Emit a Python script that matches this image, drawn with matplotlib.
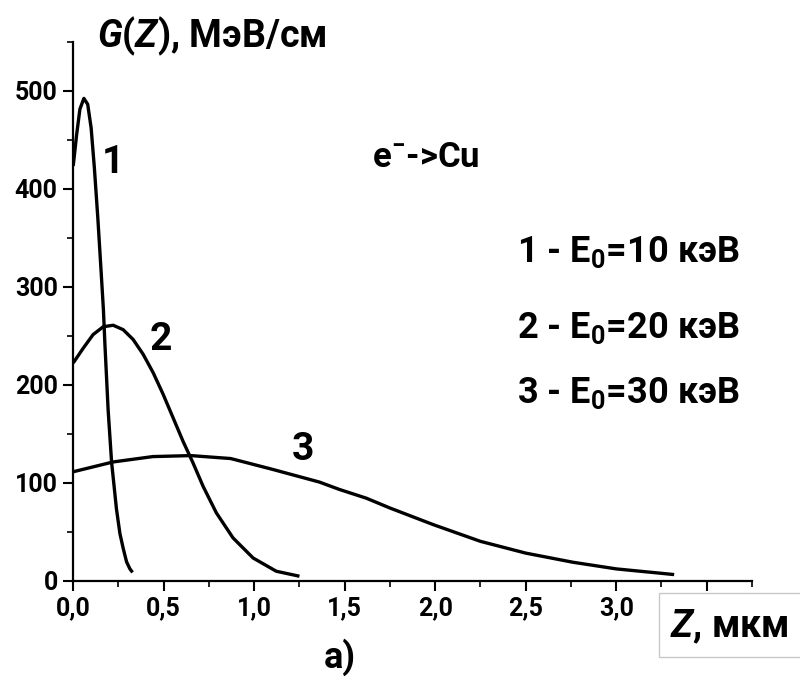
import matplotlib
matplotlib.use("Agg")
import matplotlib.pyplot as plt
from matplotlib.ticker import MultipleLocator, FixedLocator
from matplotlib.patches import Rectangle

plt.rcParams['font.family'] = ['Roboto', 'DejaVu Sans']
plt.rcParams['font.weight'] = 'bold'
plt.rcParams['mathtext.fontset'] = 'custom'
plt.rcParams['mathtext.rm'] = 'Roboto:bold'
plt.rcParams['mathtext.it'] = 'Roboto:italic:bold'
plt.rcParams['mathtext.bf'] = 'Roboto:bold'

# Curve 1: E0 = 10 keV
z1 = [0.0, 0.019, 0.037, 0.059, 0.08, 0.099, 0.117, 0.136, 0.154, 0.167, 0.175, 0.193,
      0.212, 0.239, 0.258, 0.276, 0.295, 0.313, 0.328]
g1 = [423, 455, 481, 492, 486, 462, 421, 370, 316, 276, 242, 174,
      121, 73, 48, 33, 19, 12, 8.3]

# Curve 2: E0 = 20 keV
z2 = [0.0, 0.055, 0.11, 0.166, 0.221, 0.276, 0.331, 0.386, 0.442, 0.497, 0.552, 0.607,
      0.662, 0.718, 0.791, 0.883, 0.994, 1.122, 1.25]
g2 = [222, 237, 251, 259, 260.5, 256, 246, 231, 212, 190, 166, 142,
      120, 96, 69, 43.5, 23, 9.5, 4.4]

# Curve 3: E0 = 30 keV
z3 = [0.0, 0.22, 0.44, 0.65, 0.87, 1.09, 1.25, 1.36, 1.47, 1.62, 1.75, 1.99,
      2.25, 2.50, 2.76, 3.0, 3.32]
g3 = [111, 121, 126.5, 127.5, 124.5, 114, 106, 100.5, 93, 84, 74, 57,
      40, 28, 18.7, 11.9, 6.1]

x_ticks = [0.0, 0.5, 1.0, 1.5, 2.0, 2.5, 3.0, 3.5]
x_tick_labels = ["0,0", "0,5", "1,0", "1,5", "2,0", "2,5", "3,0", ""]
y_ticks = [0, 100, 200, 300, 400, 500]
y_tick_labels = ["0", "100", "200", "300", "400", "500"]

curve_labels = ["1", "2", "3"]
legend_lines = ["1 - E$_0$=10 кэВ", "2 - E$_0$=20 кэВ", "3 - E$_0$=30 кэВ"]

fig = plt.figure(figsize=(8.0, 6.81), dpi=100)
ax = fig.add_axes([0.0915, 0.1475, 0.8485, 0.7915])

for z, g in [(z1, g1), (z2, g2), (z3, g3)]:
    ax.plot(z, g, color='black', lw=2.4, solid_joinstyle='round', solid_capstyle='butt')

ax.set_xlim(0, 3.75)
ax.set_ylim(0, 550)
ax.spines['top'].set_visible(False)
ax.spines['right'].set_visible(False)
for s in ['left', 'bottom']:
    ax.spines[s].set_linewidth(1.6)

ax.xaxis.set_major_locator(FixedLocator(x_ticks))
ax.set_xticklabels(x_tick_labels)
ax.xaxis.set_minor_locator(MultipleLocator(0.25))
ax.yaxis.set_major_locator(FixedLocator(y_ticks))
ax.set_yticklabels(y_tick_labels)
ax.yaxis.set_minor_locator(MultipleLocator(50))
ax.tick_params(axis='both', which='major', length=7.2, width=1.5, labelsize=18)
ax.tick_params(axis='y', which='major', pad=4)
ax.tick_params(axis='x', which='major', pad=4)
ax.tick_params(axis='both', which='minor', length=4, width=1.2)
for lab in ax.get_xticklabels() + ax.get_yticklabels():
    lab.set_fontweight('bold')

# Y axis title
fig.text(97 / 800, 1 - 47 / 681, r"$\mathit{G(Z)}$, МэВ/см", fontsize=27, fontweight='bold',
         ha='left', va='baseline')
# X axis title with light box
fig.patches.append(Rectangle((659 / 800, 1 - 657 / 681), 0.2, 64 / 681, transform=fig.transFigure,
                             facecolor='white', edgecolor='#c8c8c8', lw=1.0, zorder=1))
fig.text(670 / 800, 1 - 637 / 681, r"$\mathit{Z}$, мкм", fontsize=27, fontweight='bold',
         ha='left', va='baseline', zorder=2)
fig.text(340 / 800, 1 - 668 / 681, "a)", fontsize=26, ha='center', va='baseline')

# curve numbers
ax.text(0.22, 416, curve_labels[0], fontsize=28, fontweight='bold', ha='center', va='baseline')
ax.text(0.486, 235.7, curve_labels[1], fontsize=28, fontweight='bold', ha='center', va='baseline')
ax.text(1.27, 123.5, curve_labels[2], fontsize=28, fontweight='bold', ha='center', va='baseline')

ax.text(1.65, 422.4, r"e$^{-}$->Cu", fontsize=25, fontweight='bold', ha='left', va='baseline')
for t, y in zip(legend_lines, [325.5, 248, 181.6]):
    ax.text(3.68, y, t, fontsize=26, fontweight='bold', ha='right', va='baseline')

fig.savefig("out.png", dpi=100)
